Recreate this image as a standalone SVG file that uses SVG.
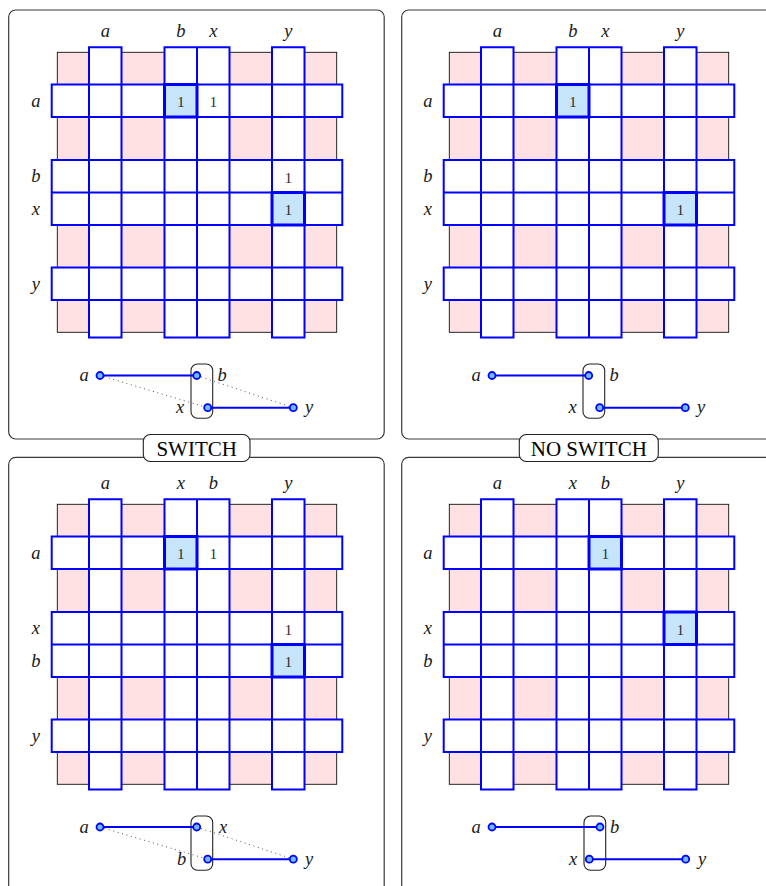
<svg xmlns="http://www.w3.org/2000/svg" xmlns:xlink="http://www.w3.org/1999/xlink" width="766" height="886" viewBox="0 0 766 886" font-family="Liberation Serif, serif">
<style>
.panel{fill:#fff;stroke:#3a3a3a;stroke-width:1.2}
.lab{font-style:italic;font-size:18.5px;text-anchor:middle;fill:#1a1a1a}
.num{font-size:15.5px;text-anchor:middle;fill:#333}
.sw{font-size:21px;text-anchor:middle;fill:#000}
.swbox{fill:#fff;stroke:#222;stroke-width:1.1}
.hl{fill:#c6e5fb;stroke:#0000ff;stroke-width:3}
.grp{fill:none;stroke:#222;stroke-width:1.1}
.edge{stroke:#0000ff;stroke-width:2;fill:none}
.dot{stroke:#555;stroke-width:1;stroke-dasharray:1 3.6;fill:none}
.node{fill:#6cbcff;stroke:#0000ff;stroke-width:1.8}
</style>
<defs>
<g id="grid">
<rect x="57.3" y="52.3" width="279.4" height="280" fill="#ffe0e3" stroke="#111" stroke-width="0.9"/>
<path fill="#fff" d="M89,47.2H121.5V337.5H89Z M164.5,47.2H229.5V337.5H164.5Z M272,47.2H304.5V337.5H272Z M51.7,84.5H342.3V117H51.7Z M51.7,160H342.3V225H51.7Z M51.7,267.5H342.3V300H51.7Z"/>
<path fill="none" stroke="#0000ff" stroke-width="2" stroke-linecap="square" d="M89,47.2H121.5M164.5,47.2H229.5M272,47.2H304.5M89,337.5H121.5M164.5,337.5H229.5M272,337.5H304.5M51.7,84.5H342.3M51.7,117H342.3M51.7,160H342.3M51.7,192.5H342.3M51.7,225H342.3M51.7,267.5H342.3M51.7,300H342.3M89,47.2V337.5M121.5,47.2V337.5M164.5,47.2V337.5M197,47.2V337.5M229.5,47.2V337.5M272,47.2V337.5M304.5,47.2V337.5M51.7,84.5V117M51.7,160V225M51.7,267.5V300M342.3,84.5V117M342.3,160V225M342.3,267.5V300"/>
</g>
</defs>

<!-- panel frames -->
<rect class="panel" x="8.7" y="10" width="375.5" height="429" rx="7"/>
<rect class="panel" x="401.7" y="10" width="375.5" height="429" rx="7"/>
<rect class="panel" x="8.7" y="457.3" width="375.5" height="440" rx="7"/>
<rect class="panel" x="401.7" y="457.3" width="375.5" height="440" rx="7"/>

<!-- top-left: SWITCH case -->
<g id="panel-top-left">
<use xlink:href="#grid" href="#grid"/>
<rect class="hl" x="164.5" y="84.5" width="32.5" height="32.5"/>
<rect class="hl" x="272" y="192.5" width="32.5" height="32.5"/>
<text class="num" x="180.75" y="107.2">1</text>
<text class="num" x="213.25" y="107.2">1</text>
<text class="num" x="288.25" y="182.6">1</text>
<text class="num" x="288.25" y="215.1">1</text>
<text class="lab" x="105.25" y="36.8">a</text>
<text class="lab" x="180.75" y="36.8">b</text>
<text class="lab" x="213.25" y="36.8">x</text>
<text class="lab" x="288.25" y="36.8">y</text>
<text class="lab" x="35.8" y="106.8">a</text>
<text class="lab" x="35.8" y="182.2">b</text>
<text class="lab" x="35.8" y="214.7">x</text>
<text class="lab" x="35.8" y="289.7">y</text>
<rect class="grp" x="191" y="364" width="21.7" height="54.3" rx="6.5"/>
</g>

<!-- top-right: NO SWITCH case -->
<g id="panel-top-right" transform="translate(392,0)">
<use xlink:href="#grid" href="#grid"/>
<rect class="hl" x="164.5" y="84.5" width="32.5" height="32.5"/>
<rect class="hl" x="272" y="192.5" width="32.5" height="32.5"/>
<text class="num" x="180.75" y="107.2">1</text>
<text class="num" x="288.25" y="215.1">1</text>
<text class="lab" x="105.25" y="36.8">a</text>
<text class="lab" x="180.75" y="36.8">b</text>
<text class="lab" x="213.25" y="36.8">x</text>
<text class="lab" x="288.25" y="36.8">y</text>
<text class="lab" x="35.8" y="106.8">a</text>
<text class="lab" x="35.8" y="182.2">b</text>
<text class="lab" x="35.8" y="214.7">x</text>
<text class="lab" x="35.8" y="289.7">y</text>
<rect class="grp" x="191" y="364" width="21.7" height="54.3" rx="6.5"/>
</g>

<!-- bottom-left -->
<g id="panel-bottom-left" transform="translate(0,452)">
<use xlink:href="#grid" href="#grid"/>
<rect class="hl" x="164.5" y="84.5" width="32.5" height="32.5"/>
<rect class="hl" x="272" y="192.5" width="32.5" height="32.5"/>
<text class="num" x="180.75" y="107.2">1</text>
<text class="num" x="213.25" y="107.2">1</text>
<text class="num" x="288.25" y="182.6">1</text>
<text class="num" x="288.25" y="215.1">1</text>
<text class="lab" x="105.25" y="36.8">a</text>
<text class="lab" x="180.75" y="36.8">x</text>
<text class="lab" x="213.25" y="36.8">b</text>
<text class="lab" x="288.25" y="36.8">y</text>
<text class="lab" x="35.8" y="106.8">a</text>
<text class="lab" x="35.8" y="182.2">x</text>
<text class="lab" x="35.8" y="214.7">b</text>
<text class="lab" x="35.8" y="289.7">y</text>
<rect class="grp" x="191" y="364" width="21.7" height="54.3" rx="6.5"/>
</g>

<!-- bottom-right -->
<g id="panel-bottom-right" transform="translate(392,452)">
<use xlink:href="#grid" href="#grid"/>
<rect class="hl" x="197" y="84.5" width="32.5" height="32.5"/>
<rect class="hl" x="272" y="160" width="32.5" height="32.5"/>
<text class="num" x="213.25" y="107.2">1</text>
<text class="num" x="288.25" y="182.6">1</text>
<text class="lab" x="105.25" y="36.8">a</text>
<text class="lab" x="180.75" y="36.8">x</text>
<text class="lab" x="213.25" y="36.8">b</text>
<text class="lab" x="288.25" y="36.8">y</text>
<text class="lab" x="35.8" y="106.8">a</text>
<text class="lab" x="35.8" y="182.2">x</text>
<text class="lab" x="35.8" y="214.7">b</text>
<text class="lab" x="35.8" y="289.7">y</text>
<rect class="grp" x="192" y="364" width="21.7" height="54.3" rx="6.5"/>
</g>

<!-- connectors -->
<g id="connectors">
<g transform="translate(0,0)">
<line class="dot" x1="100" y1="375.5" x2="207.7" y2="407.7"/>
<line class="dot" x1="196.7" y1="375.5" x2="293.3" y2="407.7"/>
<line class="edge" x1="100" y1="375.5" x2="196.7" y2="375.5"/>
<line class="edge" x1="207.7" y1="407.7" x2="293.3" y2="407.7"/>
</g>
<g transform="translate(392,0)">
<line class="edge" x1="100" y1="375.5" x2="196.7" y2="375.5"/>
<line class="edge" x1="207.7" y1="407.7" x2="293.3" y2="407.7"/>
</g>
<g transform="translate(0,451.5)">
<line class="dot" x1="100" y1="375.5" x2="207.7" y2="407.7"/>
<line class="dot" x1="196.7" y1="375.5" x2="293.3" y2="407.7"/>
<line class="edge" x1="100" y1="375.5" x2="196.7" y2="375.5"/>
<line class="edge" x1="207.7" y1="407.7" x2="293.3" y2="407.7"/>
</g>
<g transform="translate(392,451.5)">
<line class="edge" x1="100" y1="375.5" x2="208" y2="375.5"/>
<line class="edge" x1="197.3" y1="407.7" x2="293.7" y2="407.7"/>
</g>
</g>

<!-- graph nodes -->
<g id="tl-node-a"><circle class="node" cx="100" cy="375.5" r="3.5"/><text class="lab" x="84" y="381">a</text></g>
<g id="tl-node-b"><circle class="node" cx="196.7" cy="375.5" r="3.5"/><text class="lab" x="222" y="381">b</text></g>
<g id="tl-node-x"><circle class="node" cx="207.7" cy="407.7" r="3.5"/><text class="lab" x="180" y="413">x</text></g>
<g id="tl-node-y"><circle class="node" cx="293.3" cy="407.7" r="3.5"/><text class="lab" x="309" y="413">y</text></g>

<g id="tr-node-a"><circle class="node" cx="492" cy="375.5" r="3.5"/><text class="lab" x="476" y="381">a</text></g>
<g id="tr-node-b"><circle class="node" cx="588.7" cy="375.5" r="3.5"/><text class="lab" x="614" y="381">b</text></g>
<g id="tr-node-x"><circle class="node" cx="599.7" cy="407.7" r="3.5"/><text class="lab" x="572.5" y="413">x</text></g>
<g id="tr-node-y"><circle class="node" cx="685.3" cy="407.7" r="3.5"/><text class="lab" x="701" y="413">y</text></g>

<g id="bl-node-a"><circle class="node" cx="100" cy="827" r="3.5"/><text class="lab" x="84" y="832.5">a</text></g>
<g id="bl-node-x"><circle class="node" cx="196.7" cy="827" r="3.5"/><text class="lab" x="223" y="832.5">x</text></g>
<g id="bl-node-b"><circle class="node" cx="207.7" cy="859.2" r="3.5"/><text class="lab" x="181.5" y="864.7">b</text></g>
<g id="bl-node-y"><circle class="node" cx="293.3" cy="859.2" r="3.5"/><text class="lab" x="309" y="864.7">y</text></g>

<g id="br-node-a"><circle class="node" cx="492" cy="827" r="3.5"/><text class="lab" x="476" y="832.5">a</text></g>
<g id="br-node-b"><circle class="node" cx="600" cy="827" r="3.5"/><text class="lab" x="614.5" y="832.5">b</text></g>
<g id="br-node-x"><circle class="node" cx="589.3" cy="859.2" r="3.5"/><text class="lab" x="573" y="864.7">x</text></g>
<g id="br-node-y"><circle class="node" cx="685.7" cy="859.2" r="3.5"/><text class="lab" x="702" y="864.7">y</text></g>

<!-- case labels -->
<g id="label-switch"><rect class="swbox" x="143.3" y="434.5" width="106.7" height="27" rx="7"/><text class="sw" x="196.7" y="455.5">SWITCH</text></g>
<g id="label-noswitch"><rect class="swbox" x="519.3" y="434.5" width="139" height="27" rx="7"/><text class="sw" x="588.8" y="455.5">NO SWITCH</text></g>
</svg>
